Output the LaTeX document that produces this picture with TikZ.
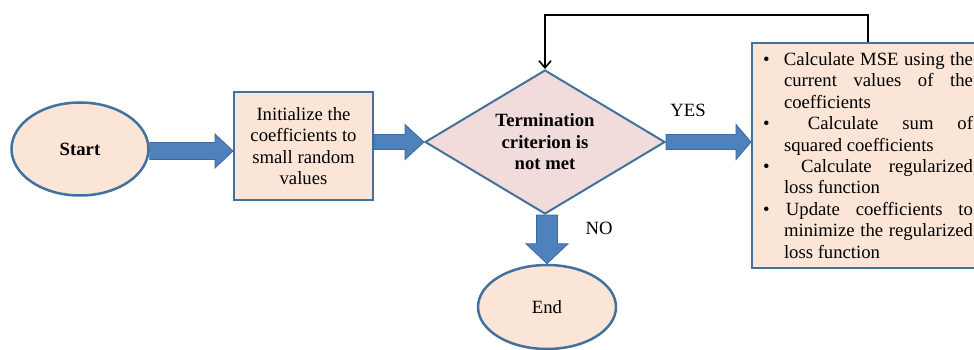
\documentclass[tikz,border=0pt]{standalone}
\usepackage{fontspec}
\setmainfont{Liberation Serif}
\usetikzlibrary{shapes.geometric,calc,arrows.meta}
\definecolor{bordc}{HTML}{41719C}
\definecolor{peach}{HTML}{FBE5D6}
\definecolor{pinkd}{HTML}{F2DCDB}
\definecolor{arrf}{HTML}{4F81BD}
\definecolor{arrd}{HTML}{3A6A9E}
\newcommand{\fatH}[5]{%
  \path (#2) coordinate (ft) (#1 |- ft) coordinate (fs);
  \draw[fat] ($(fs)+(0,#3)$) -- ($(ft)+(-#5,#3)$) -- ($(ft)+(-#5,#4)$) -- (ft)
    -- ($(ft)+(-#5,-#4)$) -- ($(ft)+(-#5,-#3)$) -- ($(fs)+(0,-#3)$) -- cycle;}
\newcommand{\fatV}[5]{%
  \path (#2) coordinate (ft) (#1 -| ft) coordinate (fs);
  \draw[fat] ($(fs)+(#3,0)$) -- ($(ft)+(#3,-#5)$) -- ($(ft)+(#4,-#5)$) -- (ft)
    -- ($(ft)+(-#4,-#5)$) -- ($(ft)+(-#3,-#5)$) -- ($(fs)+(-#3,0)$) -- cycle;}
\newcommand{\bul}{\makebox[25pt][l]{\hspace{4pt}\textbullet}}
\newcommand{\ind}{\hspace*{25pt}}
\begin{document}
\begin{tikzpicture}[x=1pt,y=-1pt,
  every node/.style={font=\fontsize{18.7}{21.4}\selectfont, text=black},
  oval/.style={ellipse, draw=bordc, fill=peach, line width=2.5pt, inner sep=0pt},
  boxnode/.style={rectangle, draw=bordc, fill=peach, line width=2pt, inner sep=0pt},
  decision/.style={diamond, draw=bordc, fill=pinkd, line width=2pt, aspect=1.667, inner sep=0pt},
  fat/.style={fill=arrf, draw=arrd, line width=0.8pt, line join=miter},
  loopline/.style={line width=1.6pt, -{Straight Barb[length=7pt,width=12pt]}}]
\useasboundingbox (0,0) rectangle (974,350);

\node[oval, minimum width=137, minimum height=93] (start) at (80,149) {\textbf{Start}};
\node[boxnode, minimum width=139, minimum height=108, align=center] (init) at (303.5,146)
  {Initialize the\\coefficients to\\small random\\values};
\node[decision, minimum width=240, minimum height=144, align=center] (dec) at (545,142)
  {\textbf{Termination}\\\textbf{criterion is}\\\textbf{not met}};
\node[boxnode, minimum width=228, minimum height=225, inner xsep=7pt, anchor=north west, align=left] (proc) at (751,42)
  {\bul\makebox[189pt][s]{Calculate MSE using the}\\
   \ind\makebox[189pt][s]{current values of the}\\
   \ind coefficients\\
   \bul\makebox[189pt][s]{\ Calculate sum of}\\
   \ind squared coefficients\\
   \bul\makebox[189pt][s]{\ Calculate regularized}\\
   \ind loss function\\
   \bul\makebox[189pt][s]{\hspace{2pt}Update coefficients to}\\
   \ind\makebox[189pt][s]{minimize the regularized}\\
   \ind loss function};
\node[oval, minimum width=138, minimum height=84] (end) at (547,307) {End};

\node (yes) at (688,110) {YES};
\node (no) at (599,228) {NO};

\fatH{start.east}{$(init.west)+(0,5)$}{8.5}{17}{18}
\fatH{init.east}{dec.west}{7.5}{17.5}{19}
\fatH{dec.east}{proc.west |- dec.east}{7.5}{17.5}{15}
\fatV{dec.south}{end.north}{10.5}{21}{20}

\coordinate (loopstart) at ($(proc.north west)+(117,0)$);
\draw[loopline] (loopstart) -- ++(0,-27) -| (dec.north);
\end{tikzpicture}
\end{document}
